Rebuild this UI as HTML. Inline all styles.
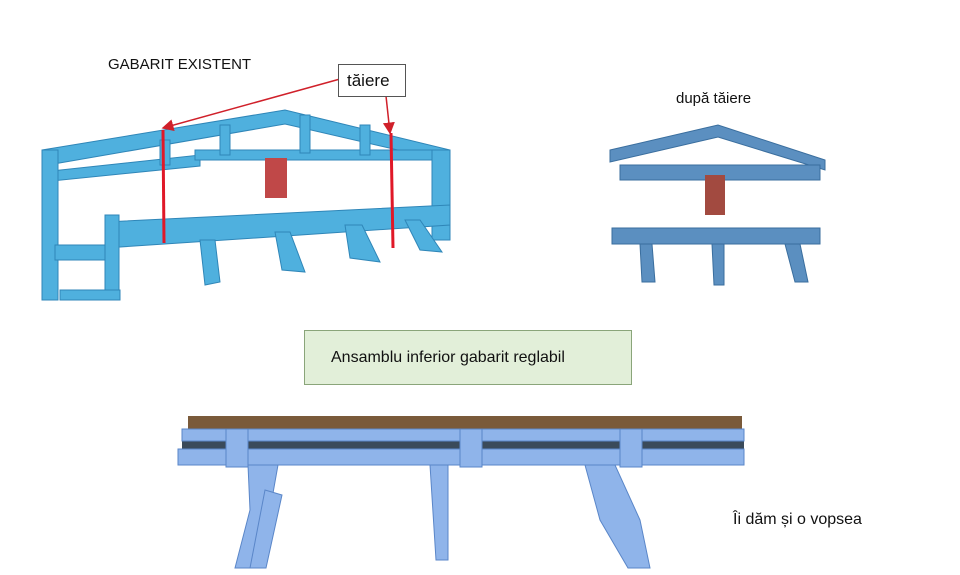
<!DOCTYPE html>
<html><head><meta charset="utf-8"><style>
body{margin:0;background:#fff;width:960px;height:570px;overflow:hidden;font-family:"Liberation Sans",sans-serif}
</style></head><body>
<svg width="960" height="570" viewBox="0 0 960 570" xmlns="http://www.w3.org/2000/svg">
<defs><marker id="ar" markerWidth="8" markerHeight="8" refX="7" refY="4" orient="auto"><path d="M0,0 L8,4 L0,8 z" fill="#d0202a"/></marker></defs>
<g fill="#4fb0de" stroke="#2f86b8" stroke-width="1">
<polygon points="42,150 285,110 450,150 450,162 285,124 42,166"/>
<polygon points="42,172 200,155 200,166 42,182"/>
<polygon points="195,150 450,150 450,160 195,160"/>
<rect x="42" y="150" width="16" height="150"/>
<rect x="432" y="150" width="18" height="90"/>
<rect x="160" y="140" width="10" height="25"/>
<rect x="220" y="125" width="10" height="30"/>
<rect x="300" y="115" width="10" height="38"/>
<rect x="360" y="125" width="10" height="30"/>
<polygon points="105,222 450,205 450,225 105,248"/>
<rect x="55" y="245" width="60" height="15"/>
<rect x="105" y="215" width="14" height="85"/>
<rect x="60" y="290" width="60" height="10"/>
<polygon points="200,240 215,240 220,282 205,285"/>
<polygon points="275,232 290,232 305,272 282,270"/>
<polygon points="345,225 362,225 380,262 350,258"/>
<polygon points="405,220 420,220 442,252 420,250"/>
</g>
<rect x="265" y="158" width="22" height="40" fill="#c04848"/>
<line x1="163" y1="130" x2="164" y2="243" stroke="#e01828" stroke-width="3"/>
<line x1="391" y1="133" x2="393" y2="248" stroke="#e01828" stroke-width="3"/>
<line x1="340" y1="79" x2="163" y2="128" stroke="#d0202a" stroke-width="1.5" marker-end="url(#ar)"/>
<line x1="386" y1="96" x2="390" y2="133" stroke="#d0202a" stroke-width="1.5" marker-end="url(#ar)"/>
<rect x="338.5" y="64.5" width="67" height="32" fill="#fff" stroke="#555"/>
<text x="347" y="86" font-size="17" fill="#111">tăiere</text>
<text x="108" y="69" font-size="15" fill="#111">GABARIT EXISTENT</text>
<text x="676" y="103" font-size="15" fill="#111">după tăiere</text>
<g fill="#5b8fc0" stroke="#3a6e9e" stroke-width="1">
<polygon points="610,150 718,125 825,160 825,170 718,137 610,162"/>
<polygon points="620,165 820,165 820,180 620,180"/>
<rect x="612" y="228" width="208" height="16"/>
<polygon points="640,244 652,244 655,282 642,282"/>
<polygon points="712,244 724,244 724,285 714,285"/>
<polygon points="785,244 800,244 808,282 795,282"/>
</g>
<rect x="705" y="175" width="20" height="40" fill="#a24a40"/>
<rect x="304.5" y="330.5" width="327" height="54" fill="#e2efd9" stroke="#8aa57a"/>
<text x="331" y="362" font-size="16" fill="#111">Ansamblu inferior gabarit reglabil</text>
<rect x="188" y="416" width="554" height="13" fill="#7a5a3a"/>
<rect x="182" y="441" width="562" height="8" fill="#3a4a5a"/>
<g fill="#8fb4ea" stroke="#5a86c8">
<rect x="182" y="429" width="562" height="12"/>
<rect x="178" y="449" width="566" height="16"/>
<rect x="226" y="429" width="22" height="38"/>
<rect x="460" y="429" width="22" height="38"/>
<rect x="620" y="429" width="22" height="38"/>
<polygon points="248,465 278,465 270,510 255,568 235,568 250,510"/>
<polygon points="265,490 282,495 266,568 250,568"/>
<polygon points="430,465 448,465 448,560 436,560"/>
<polygon points="585,465 615,465 640,520 650,568 628,568 600,520"/>
</g>
<text x="733" y="524" font-size="16" fill="#111">Îi dăm și o vopsea</text>
</svg>
</body></html>
